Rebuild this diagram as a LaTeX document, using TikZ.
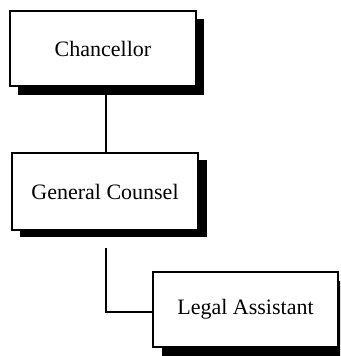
\documentclass[tikz,border=0pt]{standalone}
\usepackage{fontspec}
\setmainfont{Liberation Serif}
\begin{document}
\begin{tikzpicture}[x=1pt,y=-1pt,
  orgbox/.style={draw=black,line width=1.5pt,fill=white,minimum width=186pt,minimum height=75pt,font=\fontsize{22}{26}\selectfont,inner sep=0pt},
  shadowbox/.style={fill=black,draw=none},
  link/.style={draw=black,line width=1.5pt}]
\useasboundingbox (0,0) rectangle (340,356);
\begin{scope}
\clip (0,0) rectangle (340,356);
% shadows
\fill[shadowbox] (18,19) rectangle (204,95);
\fill[shadowbox] (20,160) rectangle (207,237);
\fill[shadowbox] (162,281) rectangle (348,360);
% boxes
\node[orgbox] (chan) at (103,48.5) {Chancellor};
\node[orgbox,minimum height=77pt] (gc) at (105,191.5) {General Counsel};
\node[orgbox,minimum width=185pt] (la) at (245.5,309.5) {Legal Assistant};
\end{scope}
\coordinate (c1) at (106,95);
\coordinate (c2) at (106,248);
\coordinate (bend) at (106,312);
\draw[link] (c1) -- (c1 |- gc.north);
\draw[link] (c2) -- (bend) -- (bend -| la.west);
\end{tikzpicture}
\end{document}
